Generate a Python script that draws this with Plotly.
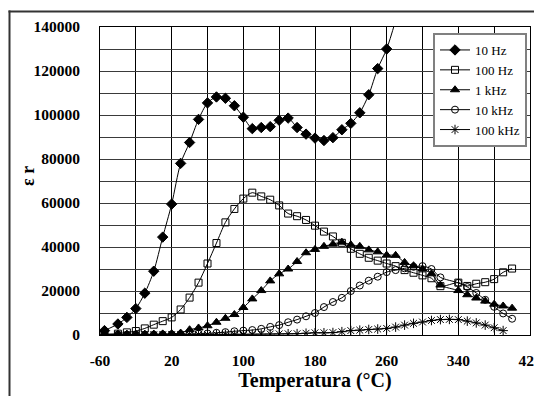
import plotly.graph_objects as go

temps = [-55, -40, -30, -20, -10, 0, 10, 20, 30, 40, 50, 60, 70, 80, 90, 100, 110, 120, 130, 140,
         150, 160, 170, 180, 190, 200, 210, 220, 230, 240, 250, 260, 270, 280, 290, 300, 310, 320,
         330, 340, 350, 360, 370, 380, 390, 400]

eps_10hz = [2000, 5000, 8000, 12000, 19000, 29000, 44500, 59500, 78000, 87500, 98000, 105500, 108200,
            107600, 104200, 99000, 93800, 94300, 94700, 97600, 98600, 94300, 91300, 89500, 88400, 89700,
            93300, 96200, 101000, 109200, 121100, 130000, 143000] + [None] * 13
eps_100hz = [300, 600, 1200, 1800, 3000, 4700, 6300, 8000, 11600, 17000, 23800, 32500, 41800, 51200, 57300,
             62000, 64700, 63000, 61500, 58900, 55200, 54000, 52300, 49700, 47000, 44800, 41900, 39200, 36900,
             35100, 33800, 32500, 31300, 29500, 28300, 27100, 25800, 22200, None, 23800, 22300, 23300, 24000,
             25400, 28500, 30200]
eps_1khz = [300, 300, 300, 300, 300, 400, 500, 600, 900, 2400, 3200, 4200, 5800, 7600, 9300, 12500, 16400,
            20200, 24600, 27800, 30000, 33400, 37400, 38900, 40300, 41300, 42200, 41000, 40300, 38700, 37800,
            36300, 36200, 33000, 31500, 30000, 27800, 22700, None, 20200, 18300, 16800, 15400, 14000, 13200, 12200]
eps_10khz = [200, 200, 200, 200, 200, 200, 250, 300, 400, 500, 600, 700, 1000, 1300, 1700, 2000, 2250, 2800,
             3700, 4500, 5800, 7000, 8500, 10000, 12700, 15000, 16900, 20000, 22500, 24700, 26500, 28600, 29500,
             30300, 31000, 31300, 30000, 26200, None, 23700, 21800, 19100, 16000, 12800, 9800, 7400]
eps_100khz = [100, 100, 100, 100, 100, 100, 100, 150, 150, 200, 200, 250, 250, 300, 300, 300, 350, 400, 450,
              500, 550, 600, 800, 1000, 1000, 1100, 1500, 2000, 2200, 2500, 2700, 3000, 3600, 4500, 5300, 5900,
              6600, 7000, 7100, 7000, 6300, 5500, 4500, 3300, 2000, None]

series_names = ["10 Hz", "100 Hz", "1 kHz", "10 kHz", "100 kHz"]
series_values = [eps_10hz, eps_100hz, eps_1khz, eps_10khz, eps_100khz]
symbols = ["diamond", "square-open", "triangle-up", "circle-open", "asterisk-open"]
sizes = [8, 7, 8, 7, 8]

x_tickvals = [-60, -20, 20, 60, 100, 140, 180, 220, 260, 300, 340, 380, 420]
x_ticktext = ["-60", "", "20", "", "100", "", "180", "", "260", "", "340", "", "420"]
y_tickvals = [0, 10000, 20000, 30000, 40000, 50000, 60000, 70000, 80000, 90000, 100000, 110000,
              120000, 130000, 140000]
y_ticktext = ["0", "", "20000", "", "40000", "", "60000", "", "80000", "", "100000", "", "120000", "",
              "140000"]
x_title = "Temperatura (°C)"
y_title = "ε r"

SERIF = "Liberation Serif, Times New Roman, serif"

fig = go.Figure()
for name, vals, sym, sz in zip(series_names, series_values, symbols, sizes):
    fig.add_trace(go.Scatter(
        x=temps, y=vals, name=name, mode="lines+markers", connectgaps=True,
        line=dict(color="black", width=1, shape="spline", smoothing=0.8),
        marker=dict(symbol=sym, size=sz, color="black", line=dict(color="black", width=1)),
    ))

# the page places the figure 8 px from the top-left corner (default body margin)
OFF = 8
W, H = 542 - OFF, 396 - OFF

def fx(px):  # page pixel -> paper fraction
    return (px - OFF) / W

def fy(py):
    return 1 - (py - OFF) / H

PL, PR, PT, PB = 100, 530, 27, 335  # plot area in page pixels

fig.update_layout(
    width=W, height=H,
    margin=dict(l=0, r=0, t=0, b=0, autoexpand=False),
    paper_bgcolor="white", plot_bgcolor="white",
    showlegend=True,
    legend=dict(
        x=fx(433), y=fy(33), xanchor="left", yanchor="top",
        bgcolor="white", bordercolor="#808080", borderwidth=2,
        font=dict(family=SERIF, size=13, color="black"),
        tracegroupgap=0, itemwidth=30,
    ),
    xaxis=dict(
        domain=[fx(PL), fx(PR)],
        range=[-60, 420], tickmode="array", tickvals=x_tickvals, ticktext=x_ticktext,
        automargin=False,
        showgrid=True, gridcolor="black", gridwidth=1,
        showline=True, linecolor="black", linewidth=1, mirror=True,
        ticks="", zeroline=False, ticklabelstandoff=11, ticklabeloverflow="allow",
        tickfont=dict(family=SERIF, size=15.5, color="black", weight="bold"),
        title=dict(text=x_title, standoff=4,
                   font=dict(family=SERIF, size=20, color="black", weight="bold")),
    ),
    yaxis=dict(
        domain=[fy(PB), fy(PT)],
        range=[0, 140000], tickmode="array", tickvals=y_tickvals, ticktext=y_ticktext,
        automargin=False,
        showgrid=True, gridcolor="#3a3a3a", gridwidth=1.4,
        showline=True, linecolor="black", linewidth=1, mirror=True,
        ticks="", zeroline=False, ticklabelstandoff=16,
        tickfont=dict(family=SERIF, size=15.5, color="black", weight="bold"),
    ),
    annotations=[
        dict(text=y_title, xref="paper", yref="paper", x=fx(28), y=fy(176),
             xanchor="center", yanchor="middle", textangle=-90, showarrow=False,
             font=dict(family=SERIF, size=18, color="black", weight="bold")),
    ],
    shapes=[
        dict(type="line", xref="paper", yref="paper", layer="above",
             x0=fx(9.5), x1=fx(9.5), y0=fy(10.5), y1=0,
             line=dict(color="#333333", width=2)),
        dict(type="line", xref="paper", yref="paper", layer="above",
             x0=fx(8.5), x1=1, y0=fy(11.5), y1=fy(11.5),
             line=dict(color="#333333", width=2)),
    ],
)

fig.write_html("out.html")
